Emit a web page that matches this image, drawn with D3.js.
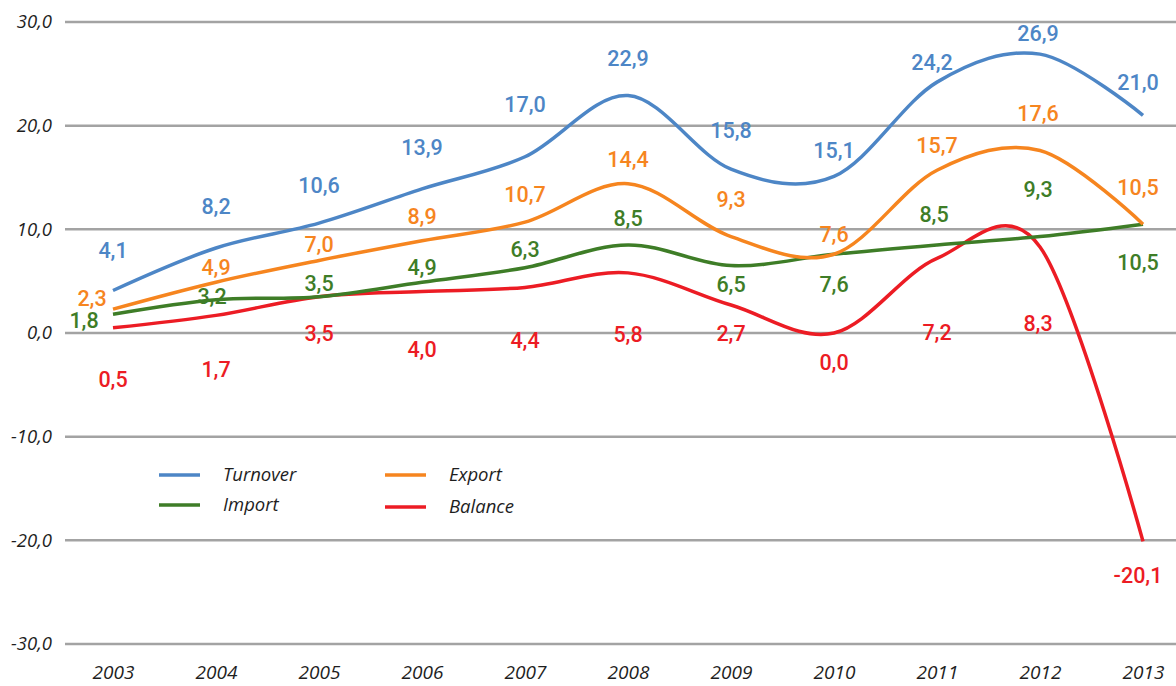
<!DOCTYPE html>
<html>
<head>
<meta charset="utf-8">
<script src="https://cdn.jsdelivr.net/npm/d3@7"></script>
<style>
  html, body { margin: 0; padding: 0; background: #fff; }
  svg { display: block; }
</style>
</head>
<body>
<svg id="chart" width="1176" height="686"></svg>
<script>
// Trade figures by year
const years = ["2003","2004","2005","2006","2007","2008","2009","2010","2011","2012","2013"];
const turnover = [4.1, 8.2, 10.6, 13.9, 17.0, 22.9, 15.8, 15.1, 24.2, 26.9, 21.0];
const exportVals = [2.3, 4.9, 7.0, 8.9, 10.7, 14.4, 9.3, 7.6, 15.7, 17.6, 10.5];
const importVals = [1.8, 3.2, 3.5, 4.9, 6.3, 8.5, 6.5, 7.6, 8.5, 9.3, 10.5];
const balance = [0.5, 1.7, 3.5, 4.0, 4.4, 5.8, 2.7, 0.0, 7.2, 8.3, -20.1];
const yTicks = [-30, -20, -10, 0, 10, 20, 30];
const seriesNames = ["Turnover", "Export", "Import", "Balance"];

// Label placement relative to each point: [dx, dy]
const labelShift = {
  Turnover: [[0,-40],[0,-42],[0,-38],[0,-42],[0,-53],[0,-37],[0,-39],[0,-26],[-5,-20],[-2,-21],[-5,-33]],
  Export:   [[-21,-11],[0,-15],[0,-16],[0,-24],[0,-28],[0,-24],[0,-37],[0,-20],[0,-25],[-2,-37],[-5,-37]],
  Import:   [[-29,6],[-4,-4],[0,-13],[0,-15],[0,-18],[0,-27],[0,19],[0,30],[-3,-31],[-2,-47],[-5,38]],
  Balance:  [[0,51],[0,54],[0,37],[0,58],[0,53],[0,61],[0,28],[0,29],[0,74],[-2,76],[-5,34]]
};

const colors = { Turnover: "#4d86c6", Export: "#f6851f", Import: "#3e7d27", Balance: "#ec1c24" };
const values = { Turnover: turnover, Export: exportVals, Import: importVals, Balance: balance };

const svg = d3.select("#chart");

const x = d3.scalePoint().domain(years).range([113, 1143]);
const y = d3.scaleLinear().domain([-30, 30]).range([644, 22]);

// Horizontal gridlines
svg.append("g")
  .selectAll("line")
  .data(yTicks)
  .join("line")
  .attr("x1", 65).attr("x2", 1176)
  .attr("y1", d => y(d)).attr("y2", d => y(d))
  .attr("stroke", "#a3a3a3")
  .attr("stroke-width", 2.5);

const fmt = v => v.toFixed(1).replace(".", ",");

// Y-axis labels
const yAxis = d3.axisLeft(y).tickValues(yTicks).tickFormat(fmt).tickSize(0).tickPadding(0);
svg.append("g")
  .attr("transform", "translate(52,0)")
  .call(yAxis)
  .call(g => g.select(".domain").remove())
  .selectAll("text")
  .attr("font-family", "'Open Sans', sans-serif")
  .attr("font-style", "italic")
  .attr("font-size", 18.5)
  .attr("fill", "#1e1e1e");

// X-axis labels
const xAxis = d3.axisBottom(x).tickSize(0).tickPadding(0);
svg.append("g")
  .attr("transform", "translate(0,665)")
  .call(xAxis)
  .call(g => g.select(".domain").remove())
  .selectAll("text")
  .attr("font-family", "'Open Sans', sans-serif")
  .attr("font-style", "italic")
  .attr("font-size", 19)
  .attr("fill", "#1e1e1e");

const line = d3.line()
  .x((d, i) => x(years[i]))
  .y(d => y(d))
  .curve(d3.curveCatmullRom.alpha(0));

// Series lines, drawn so Turnover sits on top
const drawOrder = ["Balance", "Import", "Export", "Turnover"];
svg.append("g")
  .selectAll("path")
  .data(drawOrder)
  .join("path")
  .attr("d", k => line(values[k]))
  .attr("fill", "none")
  .attr("stroke", k => colors[k])
  .attr("stroke-width", 3.5)
  .attr("stroke-linecap", "butt");

// Value labels
seriesNames.forEach(k => {
  svg.append("g")
    .selectAll("text")
    .data(values[k])
    .join("text")
    .attr("x", (d, i) => x(years[i]) + labelShift[k][i][0])
    .attr("y", (d, i) => y(d) + labelShift[k][i][1])
    .attr("dy", "0.36em")
    .attr("text-anchor", "middle")
    .attr("font-family", "Roboto, sans-serif")
    .attr("font-weight", 500)
    .attr("font-size", 21.5)
    .attr("fill", colors[k])
    .text(fmt);
});

// Legend
const legendItems = [
  { name: "Turnover", lx: 159, ly: 475 },
  { name: "Import",   lx: 159, ly: 505 },
  { name: "Export",   lx: 385, ly: 475 },
  { name: "Balance",  lx: 385, ly: 507 }
];
const lg = svg.append("g");
legendItems.forEach(it => {
  lg.append("line")
    .attr("x1", it.lx).attr("x2", it.lx + 41)
    .attr("y1", it.ly).attr("y2", it.ly)
    .attr("stroke", colors[it.name])
    .attr("stroke-width", 3.5);
  lg.append("text")
    .attr("x", it.lx + 64)
    .attr("y", it.ly)
    .attr("dy", "0.35em")
    .attr("font-family", "'Open Sans', sans-serif")
    .attr("font-style", "italic")
    .attr("font-size", 18.5)
    .attr("fill", "#1e1e1e")
    .text(it.name);
});
</script>
</body>
</html>
